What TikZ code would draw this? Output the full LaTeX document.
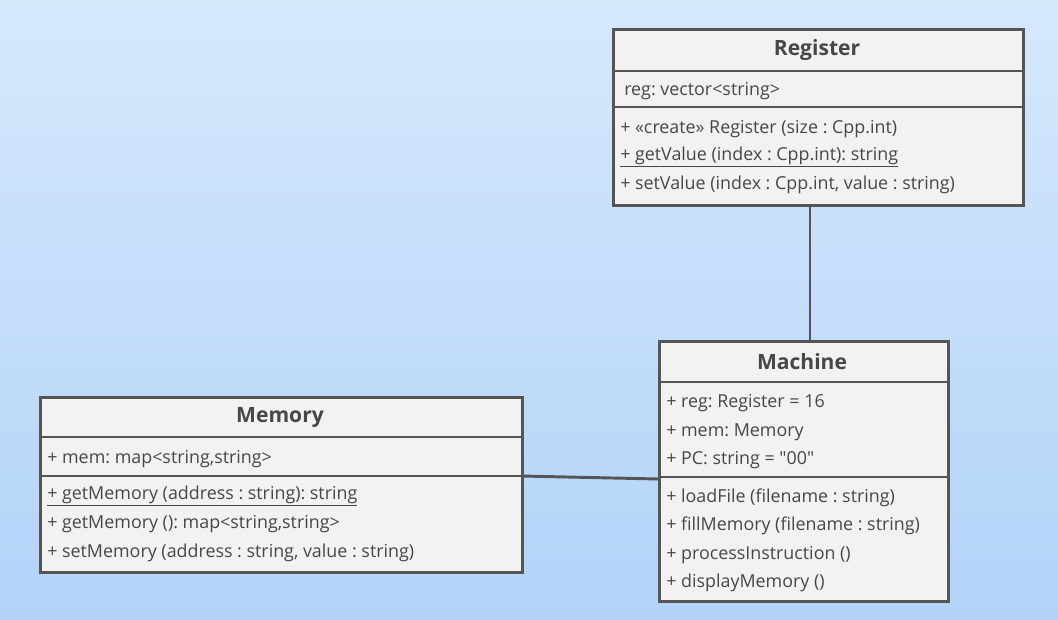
\documentclass[tikz,border=0pt]{standalone}
\usepackage{fontspec}
\setmainfont{Open Sans}
\usetikzlibrary{shadows}
\frenchspacing
\definecolor{bgtop}{HTML}{D6E8FC}
\definecolor{bgbot}{HTML}{B2D3F8}
\definecolor{boxfill}{HTML}{F2F2F2}
\definecolor{boxline}{HTML}{555555}
\definecolor{txt}{HTML}{474747}
\tikzset{
  umlbox/.style={draw=boxline, fill=boxfill, line width=2.4pt, rectangle, anchor=north west, inner sep=0pt,
    drop shadow={opacity=0.25, shadow xshift=1.2pt, shadow yshift=-1.2pt}},
  sep/.style={draw=boxline, line width=1.9pt},
  ttl/.style={font=\fontsize{15.8}{17}\selectfont\bfseries, text=txt, anchor=center, inner sep=0pt},
  row/.style={font=\fontsize{13.4}{15}\selectfont, text=txt, anchor=west, inner sep=0pt},
  conn/.style={draw=boxline, line width=2.2pt}
}
\begin{document}
\begin{tikzpicture}[x=0.75pt,y=-0.75pt]
\useasboundingbox (0,0) rectangle (1058,620);
\shade[top color=bgtop, bottom color=bgbot] (0,0) rectangle (1058,620);

% connectors
\coordinate (regb) at (810,204);
\coordinate (mact) at (810,340);
\coordinate (meme) at (521,476);
\coordinate (macw) at (658,479);

% Register
\node[umlbox, minimum width=307.5pt, minimum height=132pt] (register) at (612,28) {};
\draw[sep] (612,71) -- (1022,71);
\draw[sep] (612,107) -- (1022,107);
\node[ttl] (registerT) at (817,50) {Register};
\node[row] (r1) at (624,91) {reg: vector<string>};
\node[row] (r2) at (620,129) {+ «create» Register (size : Cpp.int)};
\node[row] (r3) at (620,157) {\underline{+ getValue (index : Cpp.int): string}};
\node[row] (r4) at (620,185) {+ setValue (index : Cpp.int, value : string)};

% Machine
\node[umlbox, minimum width=216.75pt, minimum height=195pt] (machine) at (658,340) {};
\draw[sep] (658,382) -- (947,382);
\draw[sep] (658,477) -- (947,477);
\node[ttl] (machineT) at (802,362) {Machine};
\node[row] (m1) at (666,403) {+ reg: Register = 16};
\node[row] (m2) at (666,432) {+ mem: Memory};
\node[row] (m3) at (666,460) {+ PC: string = \textquotedbl 00\textquotedbl};
\node[row] (m4) at (666,498) {+ loadFile (filename : string)};
\node[row] (m5) at (666,526) {+ fillMemory (filename : string)};
\node[row] (m6) at (666,555) {+ processInstruction ()};
\node[row] (m7) at (666,583) {+ displayMemory ()};

% Memory
\node[umlbox, minimum width=361.5pt, minimum height=131.25pt] (memory) at (39,396) {};
\draw[sep] (39,437) -- (521,437);
\draw[sep] (39,476) -- (521,476);
\node[ttl] (memoryT) at (280,418) {Memory};
\node[row] (e1) at (47,459) {+ mem: map<string,string>};
\node[row] (e2) at (47,496) {\underline{+ getMemory (address : string): string}};
\node[row] (e3) at (47,524) {+ getMemory (): map<string,string>};
\node[row] (e4) at (47,553) {+ setMemory (address : string, value : string)};

\draw[conn] (regb) -- (mact);
\draw[conn] (meme) -- (macw);
\end{tikzpicture}
\end{document}
